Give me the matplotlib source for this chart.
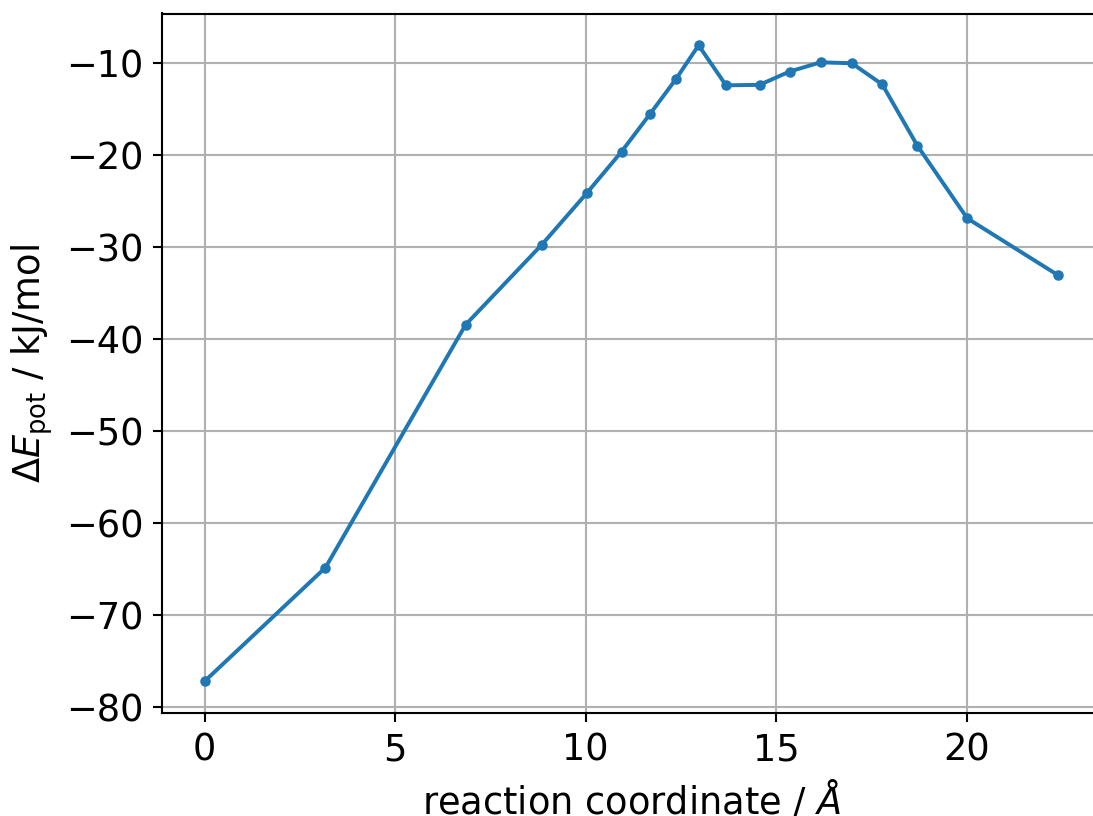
import matplotlib
matplotlib.use("Agg")
import matplotlib.pyplot as plt

# reaction coordinate (Angstrom) and potential energy difference (kJ/mol)
coord = [0.0, 3.17, 6.85, 8.85, 10.03, 10.94, 11.68, 12.37, 12.96, 13.68,
         14.56, 15.35, 16.16, 16.98, 17.78, 18.70, 20.01, 22.40]
delta_e = [-77.2, -64.85, -38.45, -29.75, -24.15, -19.65, -15.6, -11.75, -8.1,
           -12.45, -12.4, -10.95, -9.95, -10.05, -12.35, -19.0, -26.9, -33.1]

plt.rcParams['font.size'] = 14

dpi = 189
fig = plt.figure(figsize=(1093 / dpi, 816 / dpi), dpi=dpi)
ax = fig.add_axes([162 / 1093, 103 / 816, 939 / 1093, 699.5 / 816])

ax.plot(coord, delta_e, '.-', color='tab:blue', lw=1.5)
ax.set_xlabel(r'reaction coordinate / $Å$')
ax.set_ylabel(r'$\Delta E_\mathrm{pot}$ / kJ/mol')
ax.grid()

fig.savefig('out.png', dpi=dpi)
